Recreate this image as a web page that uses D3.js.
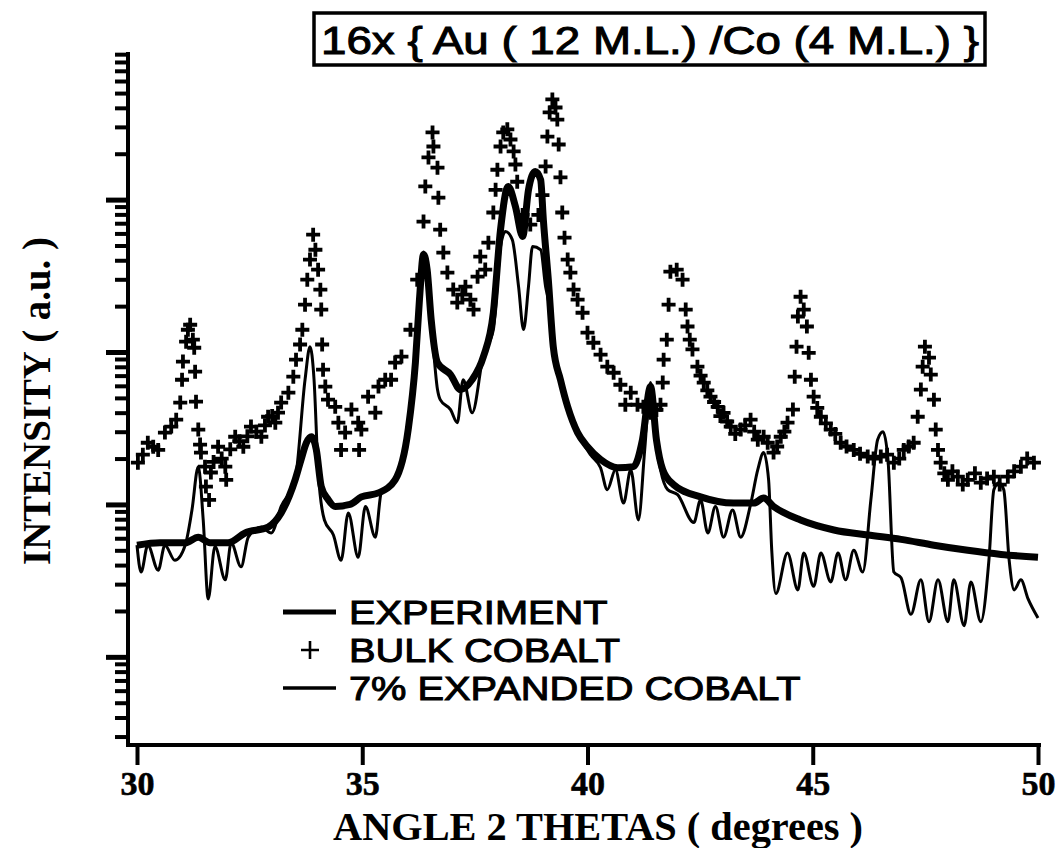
<!DOCTYPE html>
<html>
<head>
<meta charset="utf-8">
<script src="https://cdn.jsdelivr.net/npm/d3@7"></script>
<style>
    body { margin: 0; background: #fff; }
    svg { display: block; }
</style>
</head>
<body>
<svg id="chart" width="1060" height="848"></svg>
<script>
// values: [2 theta (deg), intensity (a.u.)]
var experiment = [
    [30.0, 54], [30.51, 56], [31.07, 56], [31.36, 61], [31.62, 56], [32.02, 56], [32.4, 65],
    [32.91, 71], [33.2, 88], [33.51, 145], [33.64, 196], [33.76, 254], [33.87, 278], [33.98, 229],
    [34.09, 131], [34.24, 108], [34.4, 97], [34.73, 100], [34.98, 112], [35.36, 119], [35.73, 145],
    [36.02, 310], [36.18, 853], [36.27, 2210], [36.36, 4370], [36.44, 3480], [36.53, 1630],
    [36.67, 853], [36.96, 711], [37.18, 567], [37.44, 659], [37.69, 933], [37.91, 1815],
    [38.07, 6370], [38.24, 12200], [38.4, 9020], [38.56, 5730], [38.69, 11600], [38.84, 15300],
    [38.96, 13500], [39.02, 7390], [39.13, 2985], [39.24, 1084], [39.4, 658], [39.56, 437],
    [39.78, 296], [40.0, 239], [40.29, 197], [40.67, 174], [41.02, 177], [41.22, 266], [41.4, 593],
    [41.53, 266], [41.67, 169], [41.91, 135], [42.51, 112], [43.24, 102], [43.69, 102], [43.91, 110],
    [44.13, 97], [44.73, 79], [45.47, 68], [46.22, 63], [46.96, 59], [47.69, 54], [48.44, 50],
    [49.18, 47], [50.0, 45]
];

var expanded = [
    [30.0, 54], [30.09, 36], [30.24, 54], [30.47, 37], [30.62, 54], [30.84, 43], [31.07, 54],
    [31.22, 92], [31.36, 177], [31.47, 79], [31.58, 24], [31.73, 53], [31.96, 32], [32.09, 56],
    [32.31, 39], [32.47, 61], [32.76, 71], [32.98, 65], [33.2, 97], [33.51, 145], [33.73, 658],
    [33.84, 1084], [33.93, 658], [34.02, 169], [34.16, 79], [34.36, 63], [34.53, 43], [34.69, 88],
    [34.91, 45], [35.07, 97], [35.29, 61], [35.42, 119], [35.73, 145], [36.02, 310], [36.18, 853],
    [36.27, 2210], [36.36, 4540], [36.44, 3480], [36.53, 1630], [36.67, 567], [36.73, 487],
    [36.96, 419], [37.11, 344], [37.24, 658], [37.44, 400], [37.69, 961], [37.91, 1403],
    [38.07, 4920], [38.18, 6170], [38.33, 5470], [38.47, 2685], [38.58, 1403], [38.69, 2685],
    [38.78, 4920], [38.96, 4690], [39.07, 2685], [39.13, 2205], [39.24, 1084], [39.4, 658],
    [39.56, 437], [39.78, 296], [40.07, 211], [40.29, 174], [40.44, 125], [40.62, 169], [40.8, 102],
    [40.96, 169], [41.13, 79], [41.27, 229], [41.4, 630], [41.51, 266], [41.62, 169], [41.78, 125],
    [42.0, 116], [42.36, 76], [42.51, 107], [42.67, 65], [42.84, 97], [43.02, 61], [43.22, 92],
    [43.4, 61], [43.62, 100], [43.78, 169], [43.91, 219], [44.02, 145], [44.09, 50], [44.18, 26],
    [44.44, 48], [44.67, 27.5], [44.8, 48], [45.02, 29], [45.18, 48], [45.4, 31], [45.56, 48],
    [45.73, 32], [45.91, 50], [46.11, 36], [46.29, 107], [46.44, 266], [46.56, 300], [46.67, 197],
    [46.8, 36], [46.96, 33], [47.18, 19], [47.4, 32], [47.58, 17], [47.78, 32], [48.0, 17],
    [48.13, 32], [48.36, 16], [48.51, 31], [48.73, 17], [48.91, 43], [49.02, 125], [49.13, 139],
    [49.24, 125], [49.36, 43], [49.47, 27.5], [49.62, 32], [49.78, 24], [50.0, 18]
];

var bulk = [
    [30.02, 188], [30.13, 212], [30.24, 254], [30.36, 239], [30.47, 228], [30.62, 296], [30.76, 324],
    [30.87, 360], [30.96, 466], [31.0, 658], [31.02, 865], [31.09, 1170], [31.13, 1400], [31.18, 1510],
    [31.24, 1205], [31.27, 1067], [31.29, 743], [31.31, 472], [31.36, 310], [31.4, 247], [31.42, 219],
    [31.51, 177], [31.53, 131], [31.6, 107], [31.64, 162], [31.7, 190], [31.8, 239], [31.88, 200],
    [31.96, 177], [31.98, 145], [32.07, 230], [32.18, 278], [32.27, 260], [32.36, 239], [32.45, 280],
    [32.53, 324], [32.65, 300], [32.76, 278], [32.84, 330], [32.91, 376], [33.0, 380], [33.07, 344],
    [33.13, 400], [33.2, 466], [33.36, 541], [33.47, 689], [33.53, 891], [33.62, 1120], [33.67, 1400],
    [33.73, 2045], [33.78, 2985], [33.84, 4040], [33.91, 5890], [33.96, 4690], [34.02, 3470],
    [34.07, 2565], [34.09, 1900], [34.11, 1120], [34.13, 766], [34.18, 593], [34.24, 487], [34.4, 437],
    [34.47, 344], [34.53, 228], [34.62, 296], [34.76, 419], [34.91, 344], [34.93, 228], [34.98, 310],
    [35.13, 509], [35.29, 400], [35.36, 593], [35.51, 658], [35.64, 658], [35.73, 853], [35.87, 933],
    [36.07, 1400], [36.22, 2985], [36.36, 7180], [36.4, 12200], [36.47, 18900], [36.56, 27600],
    [36.58, 22300], [36.67, 16200], [36.69, 10300], [36.73, 6350], [36.8, 4490], [36.89, 3320],
    [37.02, 2570], [37.11, 2110], [37.22, 2380], [37.29, 2685], [37.4, 2205], [37.47, 1900],
    [37.56, 3120], [37.62, 4230], [37.73, 3475], [37.8, 5220], [37.91, 8230], [37.96, 11600],
    [38.0, 15700], [38.07, 22300], [38.13, 27600], [38.22, 28900], [38.29, 24800], [38.36, 20700],
    [38.4, 17000], [38.44, 13100], [38.56, 7940], [38.73, 6860], [38.91, 7940], [39.0, 10700],
    [39.07, 16500], [39.11, 25900], [39.16, 37300], [39.22, 45400], [39.29, 40200], [39.33, 33500],
    [39.36, 23000], [39.4, 14000], [39.44, 8230], [39.49, 5630], [39.56, 4040], [39.62, 3320],
    [39.69, 2570], [39.78, 2205], [39.89, 1810], [40.0, 1340], [40.13, 1150], [40.29, 960],
    [40.44, 802], [40.58, 731], [40.73, 610], [40.84, 451], [40.96, 541], [41.11, 451], [41.24, 437],
    [41.4, 399], [41.53, 417], [41.62, 451], [41.67, 630], [41.69, 891], [41.76, 1205], [41.8, 2045],
    [41.84, 3365], [41.98, 3470], [42.11, 2985], [42.18, 1900], [42.22, 1470], [42.27, 1205],
    [42.33, 1040], [42.44, 802], [42.51, 700], [42.58, 630], [42.66, 560], [42.73, 509], [42.81, 470],
    [42.89, 437], [42.95, 380], [43.02, 399], [43.1, 350], [43.18, 324], [43.28, 290], [43.4, 310],
    [43.5, 330], [43.62, 360], [43.7, 300], [43.78, 266], [43.91, 278], [44.0, 254], [44.13, 219],
    [44.21, 240], [44.29, 278], [44.37, 300], [44.44, 344], [44.56, 419], [44.6, 689], [44.64, 1084],
    [44.67, 1710], [44.73, 2305], [44.8, 1900], [44.87, 1470], [44.91, 988], [44.96, 658],
    [45.02, 509], [45.1, 430], [45.18, 376], [45.29, 340], [45.4, 310], [45.5, 290], [45.62, 254],
    [45.75, 240], [45.91, 228], [46.05, 215], [46.22, 206], [46.35, 200], [46.51, 206], [46.65, 212],
    [46.8, 188], [46.92, 200], [47.02, 228], [47.13, 240], [47.24, 254], [47.33, 376], [47.4, 567],
    [47.44, 802], [47.49, 1084], [47.58, 918], [47.62, 711], [47.69, 487], [47.73, 310], [47.78, 228],
    [47.84, 188], [47.92, 160], [48.0, 145], [48.1, 165], [48.22, 152], [48.33, 135], [48.44, 145],
    [48.6, 160], [48.73, 139], [48.87, 148], [49.02, 152], [49.15, 135], [49.33, 152], [49.47, 165],
    [49.62, 177], [49.76, 200], [49.91, 188]
];

var xTicks = [30, 35, 40, 45, 50];
var legendItems = ['EXPERIMENT', 'BULK COBALT', '7% EXPANDED COBALT'];
var titleText = '16x { Au ( 12 M.L.) /Co (4 M.L.) }';
var xTitle = 'ANGLE 2 THETAS ( degrees )';
var yTitle = 'INTENSITY ( a.u. )';

var svg = d3.select('#chart');
var serif = '"Liberation Serif", "Times New Roman", serif';
var sans = '"Liberation Sans", Arial, sans-serif';

var x = d3.scaleLinear().domain([30, 50]).range([137, 1038]);
var y = d3.scaleLog().domain([2.64, 93000]).range([745, 52]);

// log ticks: decades long, 2..9 short
var majorTicks = [];
var minorTicks = [];
for (var p = 0; p <= 4; p++) {
    for (var k = 1; k <= 9; k++) {
        var v = k * Math.pow(10, p);
        if (v < y.domain()[0] || v > y.domain()[1]) {
            continue;
        }
        (k === 1 ? majorTicks : minorTicks).push(v);
    }
}

var axisLeftX = 128;

svg.append('g')
    .attr('transform', 'translate(' + axisLeftX + ',0)')
    .call(d3.axisLeft(y).tickValues(minorTicks).tickSize(13).tickSizeOuter(0).tickFormat(''))
    .call(function(g) {
        g.select('.domain').remove();
        g.selectAll('line').attr('stroke', '#000').attr('stroke-width', 4);
    });

svg.append('g')
    .attr('transform', 'translate(' + axisLeftX + ',0)')
    .call(d3.axisLeft(y).tickValues(majorTicks).tickSize(22).tickSizeOuter(0).tickFormat(''))
    .call(function(g) {
        g.select('.domain').remove();
        g.selectAll('line').attr('stroke', '#000').attr('stroke-width', 5);
    });

svg.append('g')
    .attr('transform', 'translate(0,' + y.range()[0] + ')')
    .call(d3.axisBottom(x).tickValues(xTicks).tickSize(20).tickPadding(6).tickSizeOuter(0))
    .call(function(g) {
        g.select('.domain').remove();
        g.selectAll('line').attr('stroke', '#000').attr('stroke-width', 4);
        g.selectAll('text')
            .attr('fill', '#000')
            .attr('stroke', '#000')
            .attr('stroke-width', 0.6)
            .style('font-family', serif)
            .style('font-weight', 'bold')
            .style('font-size', '34px');
    });

// axis lines (frame corner)
svg.append('path')
    .attr('d', 'M' + axisLeftX + ',' + y.range()[1] + 'V' + y.range()[0] + 'H' + (x.range()[1] + 3))
    .attr('fill', 'none')
    .attr('stroke', '#000')
    .attr('stroke-width', 4);

// curves
var line = d3.line()
    .x(function(d) { return x(d[0]); })
    .y(function(d) { return y(d[1]); })
    .curve(d3.curveMonotoneX);

svg.append('path')
    .datum(expanded)
    .attr('d', line)
    .attr('fill', 'none')
    .attr('stroke', '#000')
    .attr('stroke-width', 3)
    .attr('stroke-linejoin', 'round');

svg.append('path')
    .datum(experiment)
    .attr('d', line)
    .attr('fill', 'none')
    .attr('stroke', '#000')
    .attr('stroke-width', 7)
    .attr('stroke-linejoin', 'round');

var plus = 'M-7,0H7M0,-7V7';

svg.append('g')
    .selectAll('path')
    .data(bulk)
    .enter().append('path')
    .attr('transform', function(d) {
        return 'translate(' + x(d[0]) + ',' + y(d[1]) + ')';
    })
    .attr('d', plus)
    .attr('stroke', '#000')
    .attr('stroke-width', 3.8);

// legend
var legend = svg.append('g').attr('transform', 'translate(283,0)');
var rowY = [612, 650, 688];

legend.append('line')
    .attr('x1', 0).attr('x2', 53)
    .attr('y1', rowY[0]).attr('y2', rowY[0])
    .attr('stroke', '#000').attr('stroke-width', 5);

legend.append('path')
    .attr('transform', 'translate(27,' + rowY[1] + ')')
    .attr('d', 'M-9,0H9M0,-9V9')
    .attr('stroke', '#000')
    .attr('stroke-width', 2.6);

legend.append('line')
    .attr('x1', 0).attr('x2', 53)
    .attr('y1', rowY[2]).attr('y2', rowY[2])
    .attr('stroke', '#000').attr('stroke-width', 3.5);

// the scanned legend lettering is wide: stretch it a little
legend.selectAll('text')
    .data(legendItems)
    .enter().append('text')
    .attr('transform', function(d, i) {
        return 'translate(66,' + (rowY[i] + 12) + ') scale(1.17,1)';
    })
    .attr('stroke', '#000')
    .attr('stroke-width', 1)
    .style('font-family', sans)
    .style('font-size', '34px')
    .text(function(d) { return d; });

// title box
svg.append('rect')
    .attr('x', 314).attr('y', 13)
    .attr('width', 671).attr('height', 52)
    .attr('fill', '#fff')
    .attr('stroke', '#000')
    .attr('stroke-width', 3.5);

svg.append('text')
    .attr('x', 321).attr('y', 54)
    .attr('textLength', 658)
    .attr('lengthAdjust', 'spacingAndGlyphs')
    .attr('stroke', '#000')
    .attr('stroke-width', 1)
    .style('font-family', sans)
    .style('font-size', '38px')
    .text(titleText);

// axis titles
svg.append('text')
    .attr('x', 598).attr('y', 840)
    .attr('text-anchor', 'middle')
    .attr('textLength', 530)
    .attr('lengthAdjust', 'spacingAndGlyphs')
    .style('font-family', serif)
    .style('font-weight', 'bold')
    .style('font-size', '40px')
    .text(xTitle);

svg.append('text')
    .attr('transform', 'translate(50,401) rotate(-90)')
    .attr('text-anchor', 'middle')
    .attr('textLength', 328)
    .attr('lengthAdjust', 'spacingAndGlyphs')
    .style('font-family', serif)
    .style('font-weight', 'bold')
    .style('font-size', '40px')
    .text(yTitle);
</script>
</body>
</html>
